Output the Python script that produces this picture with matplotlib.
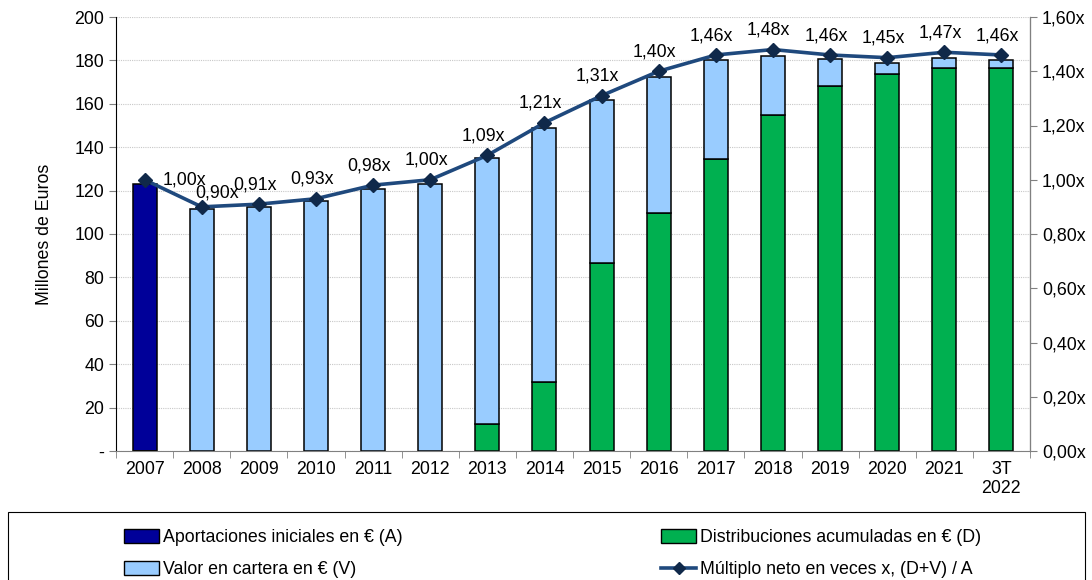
import matplotlib.pyplot as plt
import matplotlib.patches as mpatches
from matplotlib.lines import Line2D
from matplotlib.ticker import FixedLocator, FuncFormatter
import numpy as np

plt.rcParams['font.family'] = ['Liberation Sans', 'DejaVu Sans']

years = ["2007", "2008", "2009", "2010", "2011", "2012", "2013", "2014",
         "2015", "2016", "2017", "2018", "2019", "2020", "2021", "3T\n2022"]
# millones de euros
aportaciones = [123, 0, 0, 0, 0, 0, 0, 0, 0, 0, 0, 0, 0, 0, 0, 0]
distribuciones = [0, 0, 0, 0, 0, 0, 12.4, 32, 86.6, 109.8, 134.6, 154.8,
                  168.3, 173.9, 176.5, 176.5]
valor_total = [0, 111.5, 112.5, 115, 120.7, 122.9, 134.9, 149, 161.8, 172.5,
               180.2, 182.2, 180.5, 179, 181.3, 180]
multiplo = [1.00, 0.90, 0.91, 0.93, 0.98, 1.00, 1.09, 1.21, 1.31, 1.40,
            1.46, 1.48, 1.46, 1.45, 1.47, 1.46]

valor = [t - d if t > 0 else 0 for t, d in zip(valor_total, distribuciones)]

c_apor = "#000099"
c_valor = "#99CCFF"
c_dist = "#00B050"
c_line = "#1F497D"
c_mark = "#10294A"
fs = 12.8

fig = plt.figure(figsize=(10.92, 5.8), dpi=100)
ax = fig.add_axes([116 / 1092, 1 - 451 / 580, (1030 - 116) / 1092, (451 - 17) / 580])

x = np.arange(len(years))
w = 0.42
ax.bar(x, aportaciones, w, color=c_apor, edgecolor="black", linewidth=1.1, zorder=2)
ax.bar(x, distribuciones, w, color=c_dist, edgecolor="black", linewidth=1.1, zorder=2)
ax.bar(x, valor, w, bottom=distribuciones, color=c_valor, edgecolor="black",
       linewidth=1.1, zorder=2)

ax.set_xlim(-0.5, len(years) - 0.5)
ax.set_ylim(0, 200)
ax.set_yticks(np.arange(0, 201, 20))
ax.yaxis.set_major_formatter(FuncFormatter(lambda v, p: "-" if v == 0 else f"{int(v)}"))
ax.grid(axis="y", color="#C8C8C8", linestyle=(0, (1, 1)), linewidth=0.8, zorder=0)
ax.set_axisbelow(True)

ax.set_xticks(x)
ax.set_xticklabels(years, fontsize=fs)
ax.tick_params(axis="x", which="major", length=0, pad=7)
ax.xaxis.set_minor_locator(FixedLocator(np.arange(-0.5, len(years), 1)))
ax.tick_params(axis="x", which="minor", length=5, color="#808080", direction="out")
ax.tick_params(axis="y", labelsize=fs, length=5, direction="out", color="#808080")
ax.set_ylabel("Millones de Euros", fontsize=fs, labelpad=15)

ax.spines["top"].set_visible(False)
ax.spines["bottom"].set_color("#808080")
ax.spines["left"].set_color("black")

ax2 = ax.twinx()
ax2.set_ylim(0, 1.6)
ax2.set_yticks(np.arange(0, 1.61, 0.2))
ax2.yaxis.set_major_formatter(FuncFormatter(lambda v, p: f"{v:.2f}".replace(".", ",") + "x"))
ax2.tick_params(axis="y", labelsize=fs, length=5, direction="out", color="#808080")
ax2.spines["top"].set_visible(False)
ax2.spines["right"].set_color("#808080")
ax2.spines["left"].set_visible(False)
ax2.spines["bottom"].set_visible(False)

ax2.plot(x, multiplo, color=c_line, linewidth=2.6, marker="D", markersize=7.5,
         markerfacecolor=c_mark, markeredgecolor=c_mark, zorder=3)

for i, m in enumerate(multiplo):
    lab = f"{m:.2f}".replace(".", ",") + "x"
    if i == 0:
        off = (29, 0)
    elif i == 1:
        off = (11, 10)
    else:
        off = (-3, 14)
    ax2.annotate(lab, (x[i], m), xytext=off, textcoords="offset points",
                 ha="center", va="center", fontsize=fs)

# legend box
fig.patches.append(mpatches.Rectangle((8 / 1092, -0.02), 1077 / 1092, 1 - 512 / 580 + 0.02,
                                      transform=fig.transFigure, fill=False,
                                      edgecolor="black", linewidth=0.8))

h_apor = mpatches.Patch(facecolor=c_apor, edgecolor="black", linewidth=1.0)
h_valor = mpatches.Patch(facecolor=c_valor, edgecolor="black", linewidth=1.0)
h_dist = mpatches.Patch(facecolor=c_dist, edgecolor="black", linewidth=1.0)
h_mult = Line2D([], [], color=c_line, linewidth=2.6, marker="D", markersize=6,
                markerfacecolor=c_mark, markeredgecolor=c_mark)

kw = dict(frameon=False, fontsize=fs, handlelength=2.0, handleheight=0.8,
          handletextpad=0.2, labelspacing=0.85, borderpad=0, loc="upper left")
fig.legend([h_apor, h_valor], ["Aportaciones iniciales en € (A)", "Valor en cartera en € (V)"],
           bbox_to_anchor=(115 / 1092, 1 - 520 / 580), **kw)
fig.legend([h_dist, h_mult], ["Distribuciones acumuladas en € (D)",
                              "Múltiplo neto en veces x, (D+V) / A"],
           bbox_to_anchor=(652 / 1092, 1 - 520 / 580), **kw)

fig.savefig("out.png", dpi=100)
